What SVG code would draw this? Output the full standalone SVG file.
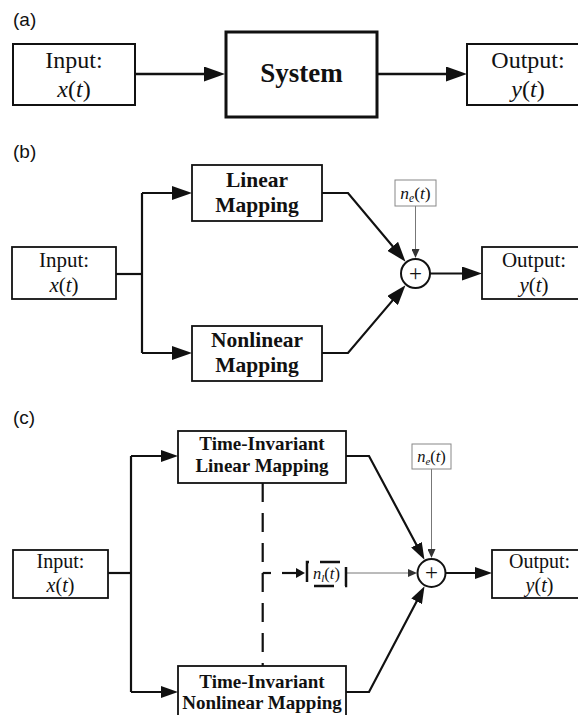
<svg xmlns="http://www.w3.org/2000/svg" width="578" height="715" viewBox="0 0 578 715">
<style>
.bx{fill:#fff;stroke:#111;stroke-width:1.8}
.bxa{fill:#fff;stroke:#111;stroke-width:2}
.sys{fill:#fff;stroke:#111;stroke-width:3}
.nb{fill:#fff;stroke:#888;stroke-width:1}
.t{font-family:"Liberation Serif","Times New Roman",serif;fill:#111;text-anchor:middle}
.b{font-weight:bold}
.i{font-style:italic}
.lab{font-family:"Liberation Sans",Arial,sans-serif;font-size:19px;fill:#111}
.ca{fill:none;stroke:#111;stroke-width:2.5}
.cb{fill:none;stroke:#111;stroke-width:2.2}
.th{fill:none;stroke:#777;stroke-width:1}
.sum{fill:#fff;stroke:#111;stroke-width:2}
</style>
<defs>
<marker id="ma" markerUnits="userSpaceOnUse" markerWidth="21" markerHeight="15" refX="13" refY="7.5" orient="auto"><path d="M0,0 L21,7.5 L0,15 z" fill="#111"/></marker>
<marker id="mb" markerUnits="userSpaceOnUse" markerWidth="20" markerHeight="14" refX="12" refY="7" orient="auto"><path d="M0,0 L20,7 L0,14 z" fill="#111"/></marker>
<marker id="mc" markerUnits="userSpaceOnUse" markerWidth="17" markerHeight="12" refX="9" refY="6" orient="auto"><path d="M0,0 L17,6 L0,12 z" fill="#111"/></marker>
<marker id="mt" markerUnits="userSpaceOnUse" markerWidth="9" markerHeight="8" refX="5" refY="4" orient="auto"><path d="M0,0 L9,4 L0,8 z" fill="#333"/></marker>
<marker id="ms" markerUnits="userSpaceOnUse" markerWidth="9" markerHeight="10" refX="5" refY="5" orient="auto"><path d="M0,0 L9,5 L0,10 z" fill="#111"/></marker>
</defs>

<!-- panel labels -->
<text class="lab" x="13" y="26">(a)</text>
<text class="lab" x="13" y="158">(b)</text>
<text class="lab" x="13" y="424">(c)</text>

<g id="connectors">
  <!-- (a) -->
  <path class="ca" d="M135,74 H217" marker-end="url(#ma)"/>
  <path class="ca" d="M377,74 H459" marker-end="url(#ma)"/>
  <!-- (b) -->
  <path class="cb" d="M116,274 H142"/>
  <path class="cb" d="M142,193 V353"/>
  <path class="cb" d="M142,193 H184" marker-end="url(#mb)"/>
  <path class="cb" d="M142,353 H184" marker-end="url(#mb)"/>
  <path class="cb" d="M322,193 H348 L400.4,255.5" marker-end="url(#mb)"/>
  <path class="cb" d="M322,353 H348 L400.3,291.4" marker-end="url(#mb)"/>
  <path class="th" d="M415.5,206 V254" marker-end="url(#mt)"/>
  <path class="cb" d="M430,273.5 H474" marker-end="url(#mb)"/>
  <!-- (c) -->
  <path class="cb" d="M108,573 H131"/>
  <path class="cb" d="M131,456 V692"/>
  <path class="cb" d="M131,456 H170" marker-end="url(#mc)"/>
  <path class="cb" d="M131,692 H170" marker-end="url(#mc)"/>
  <path class="cb" d="M346,456 H369 L420.7,552.7" marker-end="url(#mc)"/>
  <path class="cb" d="M346,692 H369 L420.8,593.4" marker-end="url(#mc)"/>
  <path class="th" d="M431.5,469 V554" marker-end="url(#mt)"/>
  <path class="th" d="M346,573 H413" marker-end="url(#mt)"/>
  <path class="cb" d="M445.5,573 H484" marker-end="url(#mc)"/>
  <path class="cb" d="M262.7,483 V666" stroke-dasharray="19 11"/>
  <path class="cb" d="M262.7,573 H271"/>
  <path class="cb" d="M282,573 H301" marker-end="url(#ms)"/>
</g>

<!-- (a) nodes -->
<g id="a-input">
  <rect class="bxa" x="13" y="44" width="122" height="61"/>
  <text class="t" x="74" y="68" font-size="24">Input:</text>
  <text class="t" x="74" y="97" font-size="24"><tspan class="i">x</tspan>(<tspan class="i">t</tspan>)</text>
</g>
<g id="a-system">
  <rect class="sys" x="226" y="32" width="151" height="85"/>
  <text class="t b" x="301.5" y="82" font-size="27">System</text>
</g>
<g id="a-output">
  <rect class="bxa" x="467" y="44" width="122" height="61"/>
  <text class="t" x="528" y="68" font-size="24">Output:</text>
  <text class="t" x="528" y="97" font-size="24"><tspan class="i">y</tspan>(<tspan class="i">t</tspan>)</text>
</g>

<!-- (b) nodes -->
<g id="b-input">
  <rect class="bx" x="12" y="247" width="104" height="52"/>
  <text class="t" x="64" y="267" font-size="21">Input:</text>
  <text class="t" x="64" y="292" font-size="21"><tspan class="i">x</tspan>(<tspan class="i">t</tspan>)</text>
</g>
<g id="b-linear">
  <rect class="bx" x="192" y="165" width="130" height="56"/>
  <text class="t b" x="257" y="187" font-size="21.5">Linear</text>
  <text class="t b" x="257" y="212" font-size="21.5">Mapping</text>
</g>
<g id="b-nonlinear">
  <rect class="bx" x="192" y="326" width="130" height="55"/>
  <text class="t b" x="257" y="347" font-size="21.5">Nonlinear</text>
  <text class="t b" x="257" y="372" font-size="21.5">Mapping</text>
</g>
<g id="b-noise">
  <rect class="nb" x="395" y="180" width="41" height="26"/>
  <text class="t" x="415.5" y="199" font-size="17.5" fill="#333"><tspan class="i">n</tspan><tspan class="i" font-size="11.5" dy="3">e</tspan><tspan dy="-3">(</tspan><tspan class="i">t</tspan>)</text>
</g>
<g id="b-sum">
  <circle class="sum" cx="415.5" cy="273.5" r="14.5"/>
  <text class="t" x="415.5" y="280.5" font-size="23">+</text>
</g>
<g id="b-output">
  <rect class="bx" x="482" y="247" width="104" height="52"/>
  <text class="t" x="534" y="267" font-size="21">Output:</text>
  <text class="t" x="534" y="292" font-size="21"><tspan class="i">y</tspan>(<tspan class="i">t</tspan>)</text>
</g>

<!-- (c) nodes -->
<g id="c-input">
  <rect class="bx" x="13" y="550" width="95" height="48"/>
  <text class="t" x="60.5" y="568" font-size="20">Input:</text>
  <text class="t" x="60.5" y="592" font-size="20"><tspan class="i">x</tspan>(<tspan class="i">t</tspan>)</text>
</g>
<g id="c-linear">
  <rect class="bx" x="178" y="431" width="168" height="52"/>
  <text class="t b" x="262" y="450" font-size="19">Time-Invariant</text>
  <text class="t b" x="262" y="472" font-size="19">Linear Mapping</text>
</g>
<g id="c-nonlinear">
  <rect class="bx" x="178" y="666" width="168" height="64"/>
  <text class="t b" x="262" y="688" font-size="19">Time-Invariant</text>
  <text class="t b" x="262" y="709" font-size="19">Nonlinear Mapping</text>
</g>
<g id="c-noise-e">
  <rect class="nb" x="412" y="444" width="39" height="25"/>
  <text class="t" x="431.5" y="462" font-size="16.5" fill="#333"><tspan class="i">n</tspan><tspan class="i" font-size="11" dy="3">e</tspan><tspan dy="-3">(</tspan><tspan class="i">t</tspan>)</text>
</g>
<g id="c-noise-l">
  <rect x="307" y="562" width="39" height="24" fill="#fff" stroke="#111" stroke-width="2.5" stroke-dasharray="20 11" stroke-dashoffset="18"/>
  <text class="t" x="326.5" y="579" font-size="16.5" fill="#333"><tspan class="i">n</tspan><tspan class="i" font-size="11" dy="3">l</tspan><tspan dy="-3">(</tspan><tspan class="i">t</tspan>)</text>
</g>
<g id="c-sum">
  <circle class="sum" cx="431.5" cy="573" r="14"/>
  <text class="t" x="431.5" y="580" font-size="23">+</text>
</g>
<g id="c-output">
  <rect class="bx" x="492" y="550" width="95" height="48"/>
  <text class="t" x="539.5" y="568" font-size="20">Output:</text>
  <text class="t" x="539.5" y="592" font-size="20"><tspan class="i">y</tspan>(<tspan class="i">t</tspan>)</text>
</g>
</svg>
